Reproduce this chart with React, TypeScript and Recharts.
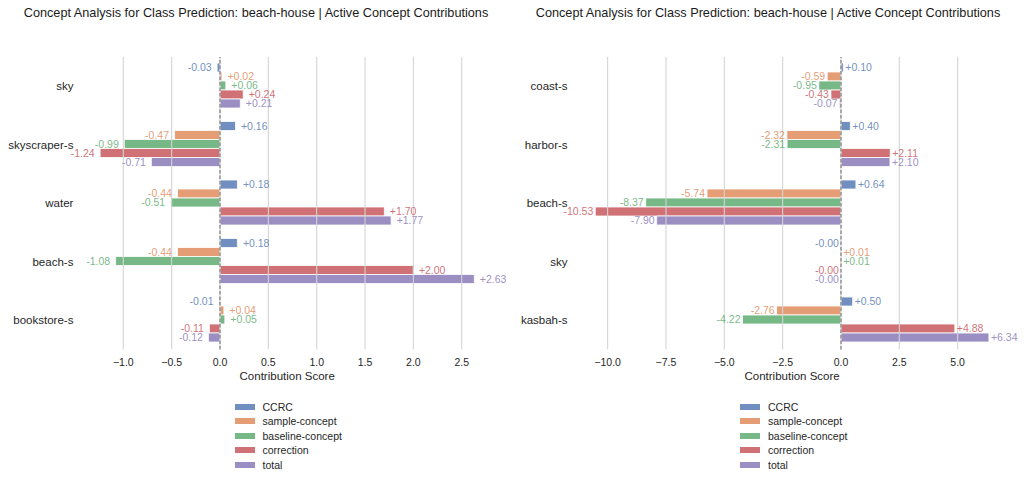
import React from 'react';
import { BarChart, Bar, XAxis, YAxis, ReferenceLine, LabelList, Label } from 'recharts';

const seriesNames = ['CCRC', 'sample-concept', 'baseline-concept', 'correction', 'total'];
const seriesKeys = ['ccrc', 'sample', 'baseline', 'correction', 'total'];
const seriesColors = ['#4C72B0', '#DD8452', '#55A868', '#C44E52', '#8172B3'];

const titleText = 'Concept Analysis for Class Prediction: beach-house | Active Concept Contributions';
const axisTitle = 'Contribution Score';

const leftCategories = ['sky', 'skyscraper-s', 'water', 'beach-s', 'bookstore-s'];
const leftCCRC = [-0.03, 0.16, 0.18, 0.18, -0.01];
const leftSample = [0.02, -0.47, -0.44, -0.44, 0.04];
const leftBaseline = [0.06, -0.99, -0.51, -1.08, 0.05];
const leftCorrection = [0.24, -1.24, 1.7, 2.0, -0.11];
const leftTotal = [0.21, -0.71, 1.77, 2.63, -0.12];
const leftTicks = [-1, -0.5, 0, 0.5, 1, 1.5, 2, 2.5];

const rightCategories = ['coast-s', 'harbor-s', 'beach-s', 'sky', 'kasbah-s'];
const rightCCRC = [0.1, 0.4, 0.64, -0.002, 0.5];
const rightSample = [-0.59, -2.32, -5.74, 0.01, -2.76];
const rightBaseline = [-0.95, -2.31, -8.37, 0.01, -4.22];
const rightCorrection = [-0.43, 2.11, -10.53, -0.002, 4.88];
const rightTotal = [-0.07, 2.1, -7.9, -0.002, 6.34];
const rightTicks = [-10, -7.5, -5, -2.5, 0, 2.5, 5];

const FONT = '"Liberation Sans", Arial, Helvetica, sans-serif';
const TEXT = '#262626';

function buildRows(categories: string[], series: number[][]) {
  return categories.map((name, i) => {
    const row: any = { name };
    seriesKeys.forEach((k, s) => {
      row[k] = series[s][i];
    });
    return row;
  });
}

function computeDomain(series: number[][]): [number, number] {
  const all = series.flat();
  const mn = Math.min(0, ...all);
  const mx = Math.max(0, ...all);
  const pad = (mx - mn) * 0.05;
  return [mn - pad, mx + pad];
}

const fmtValue = (v: number) => (v < 0 ? '-' : '+') + Math.abs(v).toFixed(2);
const fmtTick = (v: number) => (v < 0 ? '\u2212' : '') + Math.abs(v).toFixed(1);

function makeLabel(color: string, gap: number) {
  return (props: any) => {
    const { x, y, width, height, value } = props;
    const x0 = Math.min(x, x + width);
    const x1 = Math.max(x, x + width);
    const neg = value < 0;
    return (
      <text
        x={neg ? x0 - gap : x1 + gap}
        y={y + height / 2}
        dy="0.36em"
        textAnchor={neg ? 'end' : 'start'}
        fill={color}
        fillOpacity={0.8}
        fontSize={10.5}
        fontFamily={FONT}
      >
        {fmtValue(value)}
      </text>
    );
  };
}

type PanelProps = {
  offsetLeft: number;
  categories: string[];
  series: number[][];
  ticks: number[];
  yAxisWidth: number;
  marginRight: number;
  labelGap: number;
  legendLeft: number;
};

function Panel({ offsetLeft, categories, series, ticks, yAxisWidth, marginRight, labelGap, legendLeft }: PanelProps) {
  const data = buildRows(categories, series);
  const domain = computeDomain(series);
  return (
    <div style={{ position: 'absolute', left: offsetLeft, top: 0, width: 512, height: 480 }}>
      <div
        style={{
          position: 'absolute',
          left: 0,
          top: 5,
          width: 512,
          textAlign: 'center',
          fontSize: 12.7,
          lineHeight: '16px',
          color: '#1a1a1a',
          whiteSpace: 'nowrap',
        }}
      >
        {titleText}
      </div>
      <BarChart
        width={512}
        height={480}
        data={data}
        layout="vertical"
        margin={{ top: 57, right: marginRight, bottom: 96.5, left: 0 }}
        barCategoryGap={6}
        barGap={0}
      >
        <XAxis
          type="number"
          domain={domain}
          ticks={ticks}
          tickFormatter={fmtTick}
          axisLine={false}
          tickLine={false}
          tickMargin={3}
          height={34}
          tick={{ fill: TEXT, fontSize: 10.5 }}
          interval={0}
        >
          <Label value={axisTitle} position="insideBottom" offset={3.5} fill={TEXT} fontSize={11.5} />
        </XAxis>
        <YAxis
          type="category"
          dataKey="name"
          width={yAxisWidth}
          axisLine={false}
          tickLine={false}
          tick={{ fill: TEXT, fontSize: 11.5 }}
          interval={0}
        />
        {ticks.map((t) => (
          <ReferenceLine key={'g' + t} x={t} stroke="#d4d4d4" strokeWidth={1.1} />
        ))}
        {seriesKeys.map((k, i) => (
          <Bar
            key={k}
            dataKey={k}
            name={seriesNames[i]}
            fill={seriesColors[i]}
            fillOpacity={0.8}
            stroke="#ffffff"
            strokeWidth={0.8}
            isAnimationActive={false}
          >
            <LabelList dataKey={k} content={makeLabel(seriesColors[i], labelGap)} />
          </Bar>
        ))}
        <ReferenceLine x={0} stroke="#808080" strokeDasharray="3.5 2" strokeWidth={1.2} />
      </BarChart>
      <div style={{ position: 'absolute', left: legendLeft - offsetLeft, top: 399.5 }}>
        {seriesNames.map((n, i) => (
          <div key={n} style={{ display: 'flex', alignItems: 'center', height: 14.5 }}>
            <div style={{ width: 20, height: 6, background: seriesColors[i], opacity: 0.8, marginRight: 8 }} />
            <span style={{ fontSize: 10.5, color: TEXT, lineHeight: '14.5px' }}>{n}</span>
          </div>
        ))}
      </div>
    </div>
  );
}

export default function App() {
  return (
    <div
      style={{
        position: 'absolute',
        left: 0,
        top: 0,
        width: 1024,
        height: 480,
        background: '#ffffff',
        fontFamily: FONT,
        overflow: 'hidden',
      }}
    >
      <Panel
        offsetLeft={0}
        categories={leftCategories}
        series={[leftCCRC, leftSample, leftBaseline, leftCorrection, leftTotal]}
        ticks={leftTicks}
        yAxisWidth={81.4}
        marginRight={19}
        labelGap={5.5}
        legendLeft={234.5}
      />
      <Panel
        offsetLeft={512}
        categories={rightCategories}
        series={[rightCCRC, rightSample, rightBaseline, rightCorrection, rightTotal]}
        ticks={rightTicks}
        yAxisWidth={63.6}
        marginRight={15.4}
        labelGap={2}
        legendLeft={740}
      />
    </div>
  );
}
